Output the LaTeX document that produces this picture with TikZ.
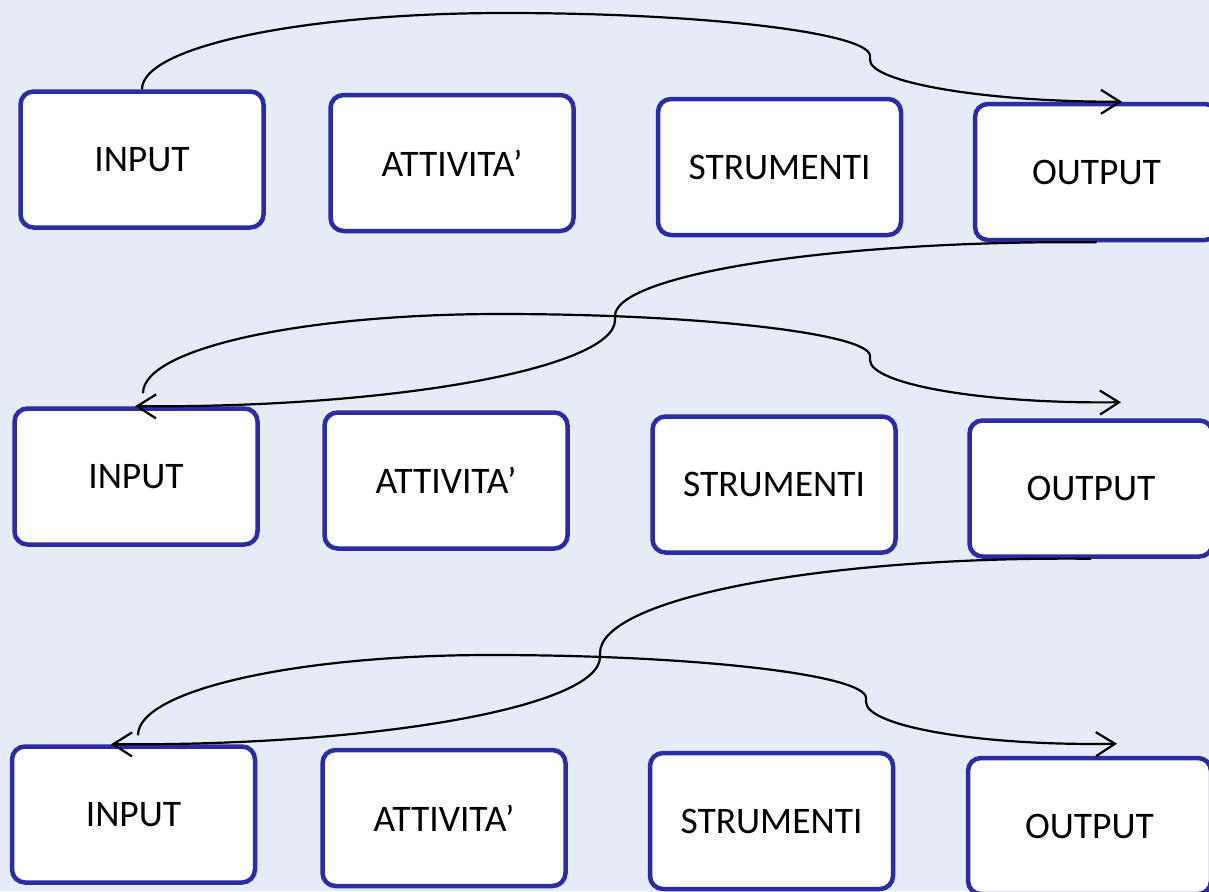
\documentclass[tikz,border=0pt]{standalone}
\usepackage{fontspec}
\setmainfont{Carlito}
\usetikzlibrary{arrows.meta,calc}
\definecolor{bgcol}{RGB}{229,236,248}
\definecolor{boxblue}{RGB}{43,43,163}
\tikzset{
  box/.style={draw=boxblue, line width=4.5pt, fill=white, rounded corners=13pt,
    minimum width=243pt, minimum height=136pt, inner sep=0pt,
    font=\fontsize{37.5}{41}\selectfont, text=black},
  conn/.style={draw=black, line width=2.2pt,
    -{Straight Barb[length=19pt,width=24pt,line width=2.2pt]}}
}
\begin{document}
\begin{tikzpicture}[x=1pt,y=-1pt]
\useasboundingbox (0,0) rectangle (1209,891);
\fill[bgcol] (0,0) rectangle (1209,891);
\clip (0,0) rectangle (1209,891);
% row 1
\node[box] (in1)  at (142,159.5) {INPUT};
\node[box] (att1) at (452,163)   {ATTIVITA’};
\node[box] (str1) at (779.5,167) {STRUMENTI};
\node[box] (out1) at (1096.5,172) {OUTPUT};
% row 2
\node[box] (in2)  at (136,476.5) {INPUT};
\node[box] (att2) at (446,480.5) {ATTIVITA’};
\node[box] (str2) at (774,484.5) {STRUMENTI};
\node[box] (out2) at (1091,488.5) {OUTPUT};
% row 3
\node[box] (in3)  at (133.5,814.5) {INPUT};
\node[box] (att3) at (444,818)   {ATTIVITA’};
\node[box] (str3) at (771.5,821) {STRUMENTI};
\node[box] (out3) at (1089.5,826) {OUTPUT};
% connector end points
\coordinate (s1) at (in1.north);
\coordinate (e1) at ($(out1.north)+(25.5,0)$);
\coordinate (s2) at (out1.south);
\coordinate (e2) at ($(in2.north)+(-1,0)$);
\coordinate (s3) at ($(in2.north)+(7,-13)$);
\coordinate (e3) at ($(out2.north)+(30,-16)$);
\coordinate (s4) at (out2.south);
\coordinate (e4) at ($(in3.north)+(-22.5,0)$);
\coordinate (s5) at ($(in3.north)+(4.5,-9)$);
\coordinate (e5) at ($(out3.north)+(27.5,-12)$);
% row 1 forward
\draw[conn] (s1) .. controls ($(s1)+(0,-43)$) and (305,13) .. (505,13)
  .. controls (706,13) and (870,33) .. (870,56) -- (870,60)
  .. controls (870,82) and (983,102) .. (e1);
% row 1 -> row 2
\draw[conn] (s2) .. controls (831,240) and (615,275) .. (615,316) -- (615,320)
  .. controls (615,367) and (400,408) .. (e2);
% row 2 forward
\draw[conn] (s3) .. controls ($(s3)+(0,-45)$) and (303,314) .. (500,314)
  .. controls (704,314) and (870,334) .. (870,356) -- (870,360)
  .. controls (870,384) and (982,404) .. (e3);
% row 2 -> row 3
\draw[conn] (s4) .. controls (820,556) and (600,599) .. (600,653) -- (600,657)
  .. controls (600,706) and (381,746) .. (e4);
% row 3 forward
\draw[conn] (s5) .. controls ($(s5)+(0,-45)$) and (296,655) .. (490,655)
  .. controls (698,655) and (866,675) .. (866,698) -- (866,702)
  .. controls (866,726) and (978,746) .. (e5);
\end{tikzpicture}
\end{document}
